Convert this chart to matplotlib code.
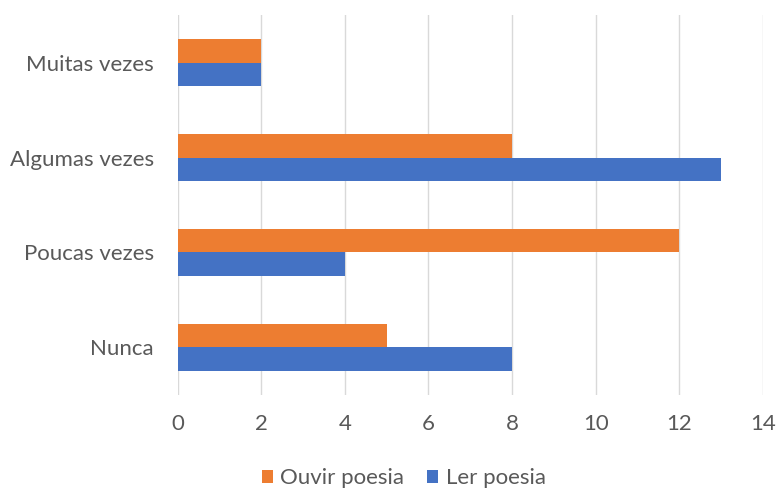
import matplotlib.pyplot as plt
import numpy as np

categories = ["Nunca", "Poucas vezes", "Algumas vezes", "Muitas vezes"]
ouvir_poesia = [5, 12, 8, 2]
ler_poesia = [8, 4, 13, 2]
x_ticks = [0, 2, 4, 6, 8, 10, 12, 14]

plt.rcParams['font.family'] = ['Lato', 'DejaVu Sans']

fig = plt.figure(figsize=(7.76, 4.91), dpi=100)
ax = fig.add_axes([0.229, 0.196, 0.754, 0.773])

y = np.arange(len(categories))
h = 0.25
ax.barh(y + h / 2, ouvir_poesia, height=h, color="#ED7D31", label="Ouvir poesia", zorder=3)
ax.barh(y - h / 2, ler_poesia, height=h, color="#4472C4", label="Ler poesia", zorder=3)

ax.set_xlim(0, 14)
ax.set_ylim(-0.5, 3.5)
ax.set_xticks(x_ticks)
ax.set_yticks(y)
ax.set_yticklabels(categories)
ax.grid(axis="x", color="#D9D9D9", linewidth=1, zorder=0)
for s in ax.spines.values():
    s.set_visible(False)
ax.tick_params(length=0, labelsize=16, colors="#595959")
ax.tick_params(axis="y", pad=17)
ax.tick_params(axis="x", pad=14)

fig.legend(loc="center", bbox_to_anchor=(0.52, 0.026), ncol=2, frameon=False,
           fontsize=16, labelcolor="#595959", handlelength=0.5, handleheight=0.5,
           columnspacing=1.0, handletextpad=0.35)

fig.savefig("out.png", dpi=100)
